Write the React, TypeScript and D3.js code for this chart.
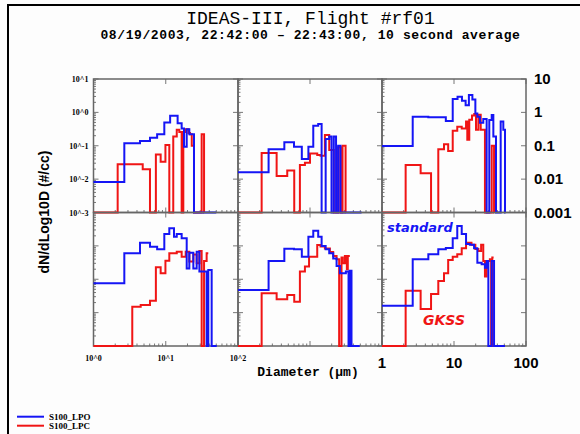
import React, { useRef, useEffect } from 'react';
import * as d3 from 'd3';

// step points [diameter, dN/dLog10D]; 0 means under the 10^-3 floor
const tlBlue = [[1, 0.0082], [2.67, 0.118], [4.4, 0.139], [6.05, 0.175], [7.6, 0.22], [9.55, 0.5], [11.5, 0.79], [14.6, 0.47], [16.6, 0.33], [17.9, 0.093], [19.5, 0.31], [21.2, 0.22], [24.6, 0], [50, 0]];
const tlRed = [[1, 0], [2.16, 0.028], [4.8, 0.0197], [6.05, 0], [7.3, 0.055], [8.5, 0.033], [9.9, 0.105], [11.2, 0], [12.7, 0.19], [14.2, 0.3], [15.4, 0.26], [16.6, 0], [17.5, 0.26], [18.9, 0.31], [20.6, 0.24], [21.7, 0.22], [22.9, 0.1], [24.6, 0], [31.4, 0.22], [33.9, 0], [34, 0]];
const tmBlue = [[1, 0.016], [2.66, 0.078], [4.4, 0.127], [6.0, 0.094], [7.7, 0.04], [9.5, 0.094], [11.1, 0.4], [13.0, 0.45], [14.5, 0], [16.5, 0.16], [18.5, 0.19], [19.9, 0], [21.4, 0.19], [23, 0], [24.6, 0.1], [26.5, 0], [52, 0]];
const tmRed = [[1, 0], [2.13, 0.061], [3.44, 0.0124], [4.83, 0.018], [6.04, 0], [7.24, 0.0265], [8.5, 0.031], [10, 0.059], [12.6, 0.053], [14, 0.05], [16.1, 0.21], [18.5, 0.075], [21.4, 0], [24.6, 0.09], [26.5, 0], [28.3, 0.1], [31.2, 0], [31.3, 0]];
const trBlue = [[1, 0.098], [2.67, 0.74], [4.4, 0.72], [7.7, 0.55], [9.6, 2.5], [11.2, 2.95], [12.9, 2.24], [14.5, 1.63], [16.1, 3.3], [18, 2.45], [19.8, 0.93], [21.1, 0.74], [22.9, 0.49], [25.5, 0.63], [28.4, 0], [30.9, 0.59], [33.4, 0.84], [35.2, 0.19], [38.3, 0], [44.5, 0.53], [48.4, 0.3], [51.1, 0], [52, 0]];
const trRed = [[1, 0], [2.13, 0.0265], [3.44, 0.0149], [4.8, 0], [6.05, 0.078], [7.26, 0.11], [8.3, 0.07], [9.6, 0.28], [11.1, 0.37], [12.8, 0.33], [14.7, 0.53], [15.3, 0.15], [16.3, 0.6], [17.8, 0.8], [19.1, 0.9], [20.2, 0.3], [21.8, 0.85], [23.5, 0.3], [26.9, 0], [33.4, 0.1], [36, 0], [36.1, 0]];
const blBlue = [[1, 0.0755], [2.67, 0.6], [4.4, 1.24], [6.05, 0.94], [7.6, 0.79], [9.55, 2.27], [11.2, 3.36], [13.0, 1.88], [14.2, 2.27], [16.6, 1.68], [19.5, 0.21], [21.2, 0.62], [24.1, 0.21], [26.8, 0.67], [29.2, 0.17], [31.4, 0.17], [36.8, 0], [38.8, 0.19], [43.2, 0], [50.7, 0]];
const blRed = [[1, 0], [3.44, 0.0151], [4.5, 0.0169], [6.05, 0.0228], [7.3, 0.228], [8.5, 0.15], [9.9, 0.36], [11.2, 0.6], [14.2, 0.67], [16.6, 0.47], [18.9, 0.67], [21.2, 0.34], [24.1, 0.55], [26.8, 0.3], [29.2, 0.7], [31.4, 0], [33.9, 0.35], [36.8, 0.6], [38.8, 0.6]];
const bmBlue = [[1, 0.048], [2.66, 0.35], [4.4, 0.82], [6.0, 0.79], [7.7, 0.47], [9.5, 1.88], [11.1, 2.85], [13.0, 1.88], [14.5, 1.0], [16.5, 0.79], [18.5, 0.6], [21, 0.42], [23.4, 0.25], [26, 0.15], [31.5, 0.17], [34.3, 0], [35.5, 0.18], [37.7, 0], [49, 0]];
const bmRed = [[1, 0], [2.13, 0.038], [3.44, 0.025], [4.83, 0.034], [6.04, 0.021], [7.24, 0.17], [8.5, 0.24], [9.7, 0.47], [12.6, 1.06], [14, 0.95], [16.1, 0.84], [18.9, 0.65], [21, 0.5], [23.4, 0.4], [25.4, 0], [27.4, 0.45], [28.5, 0.3], [30.5, 0.5], [32.5, 0.2], [33.5, 0.5], [35.7, 0.5]];
const brBlue = [[1, 0.016], [2.67, 0.4], [4.4, 0.56], [6.05, 0.79], [7.7, 0.87], [9.6, 1.69], [11.1, 3.95], [12.8, 2.27], [14.7, 1.14], [16.6, 1.08], [19, 0.85], [21.1, 0.31], [24.2, 0.28], [26.9, 0.22], [28.4, 0.35], [30, 0], [33.4, 0.35], [36, 0], [51, 0]];
const brRed = [[1, 0], [2.13, 0.045], [3.44, 0.0128], [4.8, 0.036], [6.05, 0.089], [7.26, 0.15], [8.3, 0.38], [9.6, 0.47], [11.1, 0.56], [12.8, 0.85], [14.7, 1.24], [17.5, 1.08], [19.8, 0.8], [21.8, 0.7], [23.8, 1.08], [25.5, 0.35], [26.9, 0.12], [28.4, 0.35], [31.5, 0.4], [32.8, 0], [34, 0.45], [35.5, 0.45]];

const yTickVals = [10, 1, 0.1, 0.01, 0.001];
const yLeftLabels = ['10^1', '10^0', '10^-1', '10^-2', '10^-3'];
const yRightLabels = ['10', '1', '0.1', '0.01', '0.001'];
const xTickVals = [1, 10, 100];
const xLeftLabels = ['10^0', '10^1', '10^2'];
const xRightLabels = ['1', '10', '100'];

const panels = [
    { r: 0, c: 0, blue: tlBlue, red: tlRed },
    { r: 0, c: 1, blue: tmBlue, red: tmRed },
    { r: 0, c: 2, blue: trBlue, red: trRed },
    { r: 1, c: 0, blue: blBlue, red: blRed },
    { r: 1, c: 1, blue: bmBlue, red: bmRed },
    { r: 1, c: 2, blue: brBlue, red: brRed },
];

const colX = [93.5, 238, 382, 526];
const rowY = [79, 212.5, 346];
const BLUE = '#1515f5';
const RED = '#f01515';

const App = () => {
    const ref = useRef(null);

    useEffect(() => {
        const svg = d3.select(ref.current);
        svg.selectAll('*').remove();

        svg.append('rect').attr('width', 580).attr('height', 434).attr('fill', '#fdfdfd');
        svg.append('rect')
            .attr('x', 8).attr('y', 5).attr('width', 700).attr('height', 600)
            .attr('fill', 'none').attr('stroke', '#000').attr('stroke-width', 2);

        svg.append('text').attr('x', 310.5).attr('y', 24).attr('text-anchor', 'middle')
            .attr('font-family', '"Courier New", "Liberation Mono", monospace').attr('font-size', 18)
            .text('IDEAS-III, Flight #rf01');
        svg.append('text').attr('x', 310.5).attr('y', 38.5).attr('text-anchor', 'middle')
            .attr('font-family', '"Courier New", "Liberation Mono", monospace').attr('font-size', 13)
            .attr('letter-spacing', 0.6).attr('font-weight', 'bold')
            .text('08/19/2003, 22:42:00 \u2013 22:43:00, 10 second average');

        panels.forEach(p => {
            const x = d3.scaleLog().domain([1, 100]).range([colX[p.c], colX[p.c + 1]]);
            const y = d3.scaleLog().domain([1e-3, 10]).range([rowY[p.r + 1], rowY[p.r]]);
            const g = svg.append('g');
            const [x0, x1] = x.range();
            const [y1, y0] = y.range();

            // minor and major ticks, drawn inward
            y.ticks().forEach(t => {
                const major = Math.abs(Math.log10(t) - Math.round(Math.log10(t))) < 1e-6;
                const len = major ? 5 : 2.5;
                g.append('line').attr('x1', x0).attr('x2', x0 + len).attr('y1', y(t)).attr('y2', y(t))
                    .attr('stroke', '#777').attr('stroke-width', 1);
                if (major) {
                    g.append('line').attr('x1', x1 - len).attr('x2', x1).attr('y1', y(t)).attr('y2', y(t))
                        .attr('stroke', '#777').attr('stroke-width', 1);
                }
            });
            x.ticks().forEach(t => {
                const major = Math.abs(Math.log10(t) - Math.round(Math.log10(t))) < 1e-6;
                const len = major ? 5 : 2.5;
                g.append('line').attr('x1', x(t)).attr('x2', x(t)).attr('y1', y1).attr('y2', y1 - len)
                    .attr('stroke', '#777').attr('stroke-width', 1);
                if (major) {
                    g.append('line').attr('x1', x(t)).attr('x2', x(t)).attr('y1', y0).attr('y2', y0 + len)
                        .attr('stroke', '#777').attr('stroke-width', 1);
                }
            });
            g.append('rect').attr('x', x0).attr('y', y0).attr('width', x1 - x0).attr('height', y1 - y0)
                .attr('fill', 'none').attr('stroke', '#666').attr('stroke-width', 1.5);

            const line = d3.line()
                .x(d => x(d[0]))
                .y(d => y(Math.min(10, Math.max(1e-3, d[1]))))
                .curve(d3.curveStepAfter);

            g.append('path').datum(p.red).attr('fill', 'none').attr('stroke', RED)
                .attr('stroke-width', 2).attr('d', line);
            g.append('path').datum(p.blue).attr('fill', 'none').attr('stroke', BLUE)
                .attr('stroke-width', 2).attr('d', line);

            if (p.c === 0 && p.r === 0) {
                yTickVals.forEach((t, i) => {
                    g.append('text').attr('x', x0 - 5).attr('y', y(t) + 3).attr('text-anchor', 'end')
                        .attr('font-family', '"Liberation Serif", serif').attr('font-weight', 'bold').attr('font-size', 8)
                        .text(yLeftLabels[i]);
                });
            }
            if (p.c === 2 && p.r === 0) {
                yTickVals.forEach((t, i) => {
                    g.append('text').attr('x', 534).attr('y', y(t) + 5).attr('text-anchor', 'start')
                        .attr('font-family', '"Liberation Sans", Arial, sans-serif').attr('font-weight', 'bold').attr('font-size', 15)
                        .text(yRightLabels[i]);
                });
            }
            if (p.c === 0 && p.r === 1) {
                xTickVals.forEach((t, i) => {
                    g.append('text').attr('x', x(t)).attr('y', 361).attr('text-anchor', 'middle')
                        .attr('font-family', '"Liberation Serif", serif').attr('font-weight', 'bold').attr('font-size', 8)
                        .text(xLeftLabels[i]);
                });
            }
            if (p.c === 2 && p.r === 1) {
                xTickVals.forEach((t, i) => {
                    g.append('text').attr('x', x(t)).attr('y', 368).attr('text-anchor', 'middle')
                        .attr('font-family', '"Liberation Sans", Arial, sans-serif').attr('font-weight', 'bold').attr('font-size', 15)
                        .text(xRightLabels[i]);
                });
            }
        });

        svg.append('text').attr('x', 308).attr('y', 376).attr('text-anchor', 'middle')
            .attr('font-family', '"Courier New", "Liberation Mono", monospace').attr('font-size', 13).attr('font-weight', 'bold')
            .text('Diameter (\u00b5m)');
        svg.append('text').attr('transform', 'translate(49,212) rotate(-90)').attr('text-anchor', 'middle')
            .attr('font-family', '"Liberation Sans", Arial, sans-serif').attr('font-size', 14).attr('font-weight', 'bold')
            .text('dN/dLog10D (#/cc)');

        svg.append('text').attr('x', 387).attr('y', 232)
            .attr('font-family', '"DejaVu Sans", sans-serif').attr('font-size', 13).attr('font-weight', 'bold').attr('font-style', 'italic')
            .attr('fill', BLUE).text('standard');
        svg.append('text').attr('x', 423).attr('y', 325)
            .attr('font-family', '"DejaVu Sans", sans-serif').attr('font-size', 14).attr('font-weight', 'bold').attr('font-style', 'italic')
            .attr('fill', RED).text('GKSS');

        [['S100_LPO', BLUE], ['S100_LPC', RED]].forEach(([name, color], i) => {
            const ly = 416.7 + i * 9;
            svg.append('line').attr('x1', 17).attr('x2', 44).attr('y1', ly).attr('y2', ly)
                .attr('stroke', color).attr('stroke-width', 2);
            svg.append('text').attr('x', 49).attr('y', ly + 3.3)
                .attr('font-family', '"Liberation Serif", serif').attr('font-weight', 'bold').attr('font-size', 9)
                .text(name);
        });
    }, []);

    return <svg ref={ref} width={580} height={434} style={{ position: 'absolute', left: 0, top: 0 }}></svg>;
};

export default App;
